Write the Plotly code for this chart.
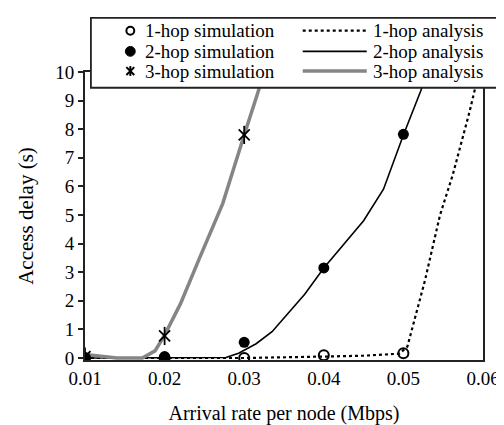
import plotly.graph_objects as go

# ---- data ----
sim_x = [0.01, 0.02, 0.03, 0.04, 0.05]
sim1_y = [0.0, 0.0, 0.0, 0.1, 0.17]
sim2_y = [0.0, 0.05, 0.55, 3.15, 7.82]
sim3_x = [0.01, 0.02, 0.03]
sim3_y = [0.05, 0.77, 7.8]

ana1_x = [0.01, 0.02, 0.03, 0.04, 0.045, 0.0495, 0.0505, 0.0527, 0.0546, 0.0562, 0.0583, 0.0595, 0.061]
ana1_y = [0.0, 0.0, 0.0, 0.05, 0.08, 0.15, 0.4, 2.7, 5.0, 6.4, 8.6, 10.0, 11.5]

ana2_x = [0.01, 0.015, 0.02, 0.025, 0.0277, 0.0293, 0.0315, 0.0335, 0.0351, 0.0376, 0.04, 0.045, 0.0475, 0.05, 0.0522, 0.054]
ana2_y = [0.0, 0.0, 0.0, 0.0, 0.02, 0.17, 0.5, 0.92, 1.44, 2.23, 3.15, 4.8, 5.9, 7.8, 9.35, 11.0]

ana3_x = [0.01, 0.012, 0.014, 0.0172, 0.0188, 0.02, 0.022, 0.0244, 0.0273, 0.03, 0.0318, 0.033]
ana3_y = [0.12, 0.05, 0.0, 0.0, 0.25, 0.8, 1.9, 3.5, 5.4, 7.8, 9.35, 10.8]

x_ticks = [0.01, 0.02, 0.03, 0.04, 0.05, 0.06]
x_tick_labels = ["0.01", "0.02", "0.03", "0.04", "0.05", "0.06"]
y_ticks = list(range(0, 11))

legend_sim = ["1-hop simulation", "2-hop simulation", "3-hop simulation"]
legend_ana = ["1-hop analysis", "2-hop analysis", "3-hop analysis"]

FONT = "Liberation Serif"
GRAY = "#858585"

fig = go.Figure()
fig.add_trace(go.Scatter(x=ana1_x, y=ana1_y, mode="lines",
                         line=dict(color="black", width=2.2, dash="dot"), showlegend=False))
fig.add_trace(go.Scatter(x=ana2_x, y=ana2_y, mode="lines",
                         line=dict(color="black", width=1.6), showlegend=False))
fig.add_trace(go.Scatter(x=ana3_x, y=ana3_y, mode="lines",
                         line=dict(color=GRAY, width=3.5), showlegend=False))
fig.add_trace(go.Scatter(x=sim_x, y=sim1_y, mode="markers",
                         marker=dict(symbol="circle-open", size=10, color="black", line=dict(width=2)),
                         showlegend=False))
fig.add_trace(go.Scatter(x=sim_x, y=sim2_y, mode="markers",
                         marker=dict(symbol="circle", size=11, color="black"), showlegend=False))
fig.add_trace(go.Scatter(x=sim3_x, y=sim3_y, mode="markers",
                         marker=dict(symbol="x-thin-open", size=11, color="black", line=dict(width=1.8, color="black")),
                         showlegend=False))
fig.add_trace(go.Scatter(x=sim3_x, y=sim3_y, mode="markers",
                         marker=dict(symbol="line-ns-open", size=13, color="black", line=dict(width=1.8, color="black")),
                         showlegend=False))

# ---- manual legend (pixel layout converted to paper coords) ----
L, R, T, B = 77, 23, 64, 68
W, H = 504, 425
PW, PH = W - L - R, H - T - B


def px(x):
    return (x - L) / PW


def py(y):
    return (H - B - y) / PH


def box(cx, cy, r):
    return dict(x0=px(cx - r), x1=px(cx + r), y0=py(cy + r), y1=py(cy - r))


shapes = []
annotations = []
shapes.append(dict(type="rect", xref="paper", yref="paper", x0=px(83), x1=px(502), y0=py(80), y1=py(9),
                   line=dict(color="#222", width=1.8), fillcolor="white", layer="above"))
rows = [22, 43, 63]
mx = 123
shapes.append(dict(type="circle", xref="paper", yref="paper", **box(mx, rows[0], 4),
                   line=dict(color="black", width=2), fillcolor="white", layer="above"))
shapes.append(dict(type="circle", xref="paper", yref="paper", **box(mx, rows[1], 5),
                   line=dict(color="black", width=1), fillcolor="black", layer="above"))
for (a, b, c, d) in [(-4, 4, -4, 4), (-4, 4, 4, -4), (0, 0, -5, 5)]:
    shapes.append(dict(type="line", xref="paper", yref="paper",
                       x0=px(mx + a), x1=px(mx + b), y0=py(rows[2] + c), y1=py(rows[2] + d),
                       line=dict(color="black", width=2), layer="above"))
line_styles = [dict(color="black", width=2.2, dash="dot"),
               dict(color="black", width=1.8),
               dict(color=GRAY, width=3.5)]
for r, st in zip(rows, line_styles):
    shapes.append(dict(type="line", xref="paper", yref="paper", x0=px(298), x1=px(363), y0=py(r), y1=py(r),
                       line=st, layer="above"))
for r, t in zip(rows, legend_sim):
    annotations.append(dict(text=t, xref="paper", yref="paper", x=px(136), y=py(r), xanchor="left",
                            yanchor="middle", showarrow=False))
for r, t in zip(rows, legend_ana):
    annotations.append(dict(text=t, xref="paper", yref="paper", x=px(367), y=py(r), xanchor="left",
                            yanchor="middle", showarrow=False))

fig.update_layout(
    width=W, height=H,
    margin=dict(l=L, r=R, t=T, b=B),
    paper_bgcolor="white", plot_bgcolor="white",
    font=dict(family=FONT, size=19, color="black"),
    shapes=shapes, annotations=annotations,
    showlegend=False,
)
fig.update_xaxes(range=[0.01, 0.06], tickvals=x_ticks, ticktext=x_tick_labels,
                 showgrid=False, zeroline=False, showline=True, linecolor="#222", linewidth=2, mirror=True,
                 ticks="",
                 title=dict(text="Arrival rate per node (Mbps)", font=dict(family=FONT, size=20), standoff=18))
fig.update_yaxes(range=[-0.07, 10], tickvals=y_ticks,
                 showgrid=False, zeroline=False, showline=True, linecolor="#222", linewidth=2, mirror=True,
                 ticks="outside", ticklen=5, tickwidth=1.5, tickcolor="#222",
                 title=dict(text="Access delay (s)", font=dict(family=FONT, size=21), standoff=16))

POST = """
(function(){
  var gd = document.getElementById('{plot_id}');
  function fix(){
    if (!gd) return;
    var t = gd.querySelectorAll('text');
    for (var i = 0; i < t.length; i++) {
      t[i].style.fontFamily = "'Liberation Serif', 'Times New Roman', Tinos, serif";
    }
  }
  fix();
  setTimeout(fix, 30);
  setTimeout(fix, 200);
  if (gd && gd.on) gd.on('plotly_afterplot', fix);
})();
"""

fig.write_html("out.html", post_script=POST)
